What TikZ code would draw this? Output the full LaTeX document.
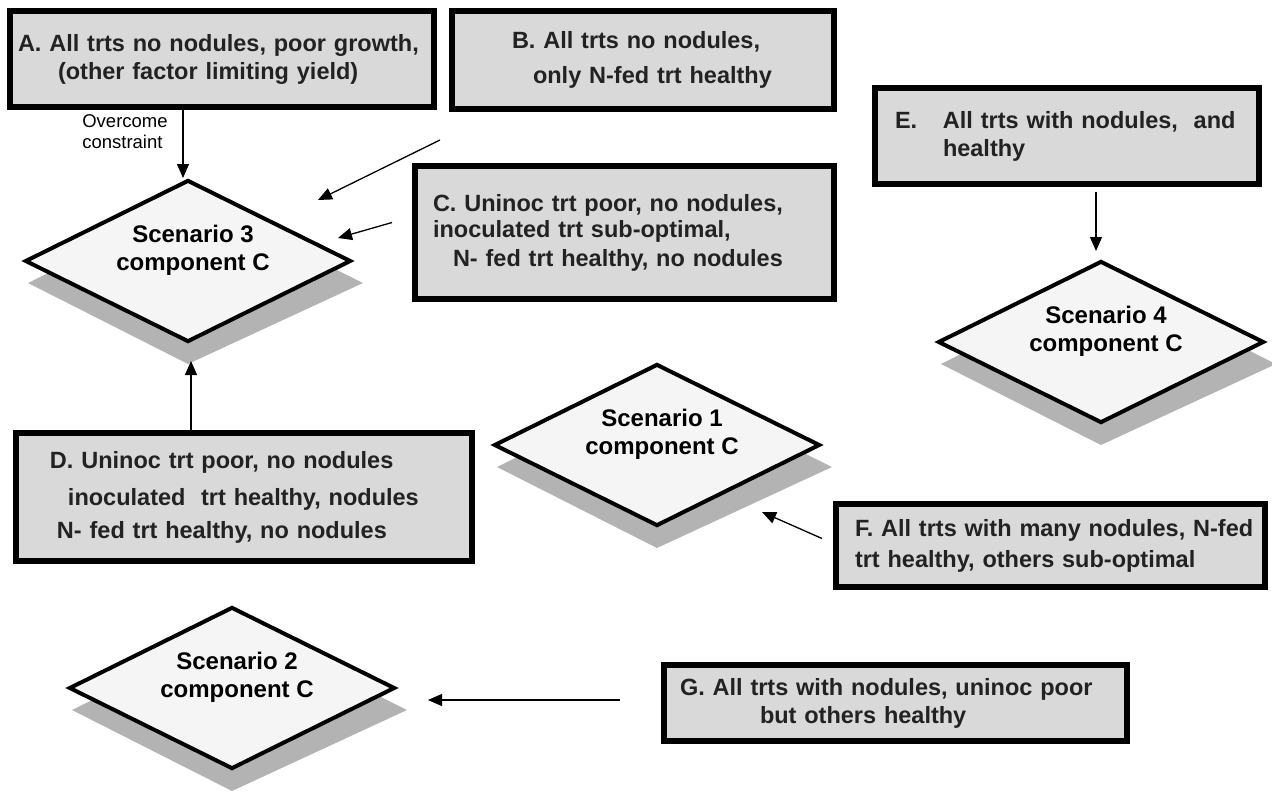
\documentclass[tikz,border=0pt]{standalone}
\usepackage{fontspec}
\setmainfont{Liberation Sans}
\usetikzlibrary{arrows.meta,calc,backgrounds,shapes.geometric}
\definecolor{boxfill}{HTML}{D9D9D9}
\definecolor{dfill}{HTML}{F5F5F5}
\definecolor{shadowc}{HTML}{B3B3B3}
\definecolor{btext}{HTML}{222222}
\begin{document}
\begin{tikzpicture}[x=1pt,y=-1pt,
  box/.style={draw=black, line width=6pt, fill=boxfill, inner sep=0pt, align=left, text=btext,
    font=\fontsize{23.5}{27}\selectfont\bfseries},
  dia/.style={diamond, draw=black, line width=4pt, fill=dfill, inner sep=0pt,
    minimum width=326pt, minimum height=162pt},
  dtext/.style={font=\fontsize{24}{28}\selectfont\bfseries, align=center, inner sep=0pt},
  arr/.style={line width=1.3pt, -{Triangle[length=14pt,width=12pt]}},
]
\useasboundingbox (0,0) rectangle (1272,793);

% boxes
\node[box, minimum width=424pt, minimum height=96pt, text width=424pt] (A) at (222,59)
  {\hspace*{8pt}A. All trts no nodules, poor growth,\\[1pt]\hspace*{48pt}(other factor limiting yield)};
\node[box, minimum width=382pt, minimum height=98pt, text width=382pt] (B) at (643,60)
  {\hspace*{60pt}B. All trts no nodules,\\[8pt]\hspace*{81pt}only N-fed trt healthy};
\node[box, minimum width=419pt, minimum height=133pt, text width=419pt] (C) at (624.5,232.5)
  {\hspace*{18pt}C. Uninoc trt poor, no nodules,\\[-1pt]\hspace*{18pt}inoculated trt sub-optimal,\\[2pt]\hspace*{38pt}N- fed trt healthy, no nodules};
\node[box, minimum width=456pt, minimum height=128pt, text width=456pt] (D) at (244,497)
  {\hspace*{34pt}D. Uninoc trt poor, no nodules\\[10pt]\hspace*{52pt}inoculated\ \ trt healthy, nodules\\[6pt]\hspace*{41pt}N- fed trt healthy, no nodules};
\node[box, minimum width=384pt, minimum height=96pt, text width=384pt] (E) at (1067,136)
  {\hspace*{20pt}\makebox[48pt][l]{E.}All trts with nodules,\ \ and\\[1pt]\hspace*{68pt}healthy};
\node[box, minimum width=429pt, minimum height=83pt, text width=429pt] (F) at (1050.5,545.5)
  {\hspace*{19pt}F. All trts with many nodules, N-fed\\[4pt]\hspace*{19pt}trt healthy, others sub-optimal};
\node[box, minimum width=463pt, minimum height=76pt, text width=463pt] (G) at (895.5,703)
  {\hspace*{16pt}G. All trts with nodules, uninoc poor\\[1pt]\hspace*{96pt}but others healthy};

% diamonds
\node[dia] (s3) at (188,261) {};
\node[dia] (s4) at (1101,342) {};
\node[dia] (s1) at (657,445) {};
\node[dia] (s2) at (232,688) {};
\node[dtext] (s3t) at ($(s3.center)+(5,-11)$) {Scenario 3\\component C};
\node[dtext] (s4t) at ($(s4.center)+(5,-11)$) {Scenario 4\\component C};
\node[dtext] (s1t) at ($(s1.center)+(5,-11)$) {Scenario 1\\component C};
\node[dtext] (s2t) at ($(s2.center)+(5,-11)$) {Scenario 2\\component C};

\begin{scope}[on background layer]
\foreach \n in {s1,s2,s3,s4}
  \fill[shadowc] ($(\n.west)+(5,22)$) -- ($(\n.north)+(8,22)$) -- ($(\n.east)+(10,22)$) -- ($(\n.south)+(0,20)$) -- cycle;
\end{scope}

% label
\node[font=\fontsize{18.5}{21}\selectfont, align=left, inner sep=0pt] (oc) at (125,132) {Overcome\\constraint};

% connectors
\coordinate (bt) at (440,140);
\coordinate (bh) at (318,200);
\draw[arr] ($(A.south)+(-39,0)$) -- ($(s3.north)+(-5,0)$);
\draw[arr] (bt) -- (bh);
\draw[arr] ($(C.west)+(-20,-10)$) -- ($(s3.east)+(-15,-23)$);
\draw[arr] ($(D.north)+(-53,0)$) -- ($(s3.south)+(3,17)$);
\draw[arr] ($(E.south)+(29,5)$) -- ($(s4.north)+(-5,-8)$);
\draw[arr] ($(F.west)+(-11,-7)$) -- ($(s1.south)+(105,-16)$);
\draw[arr] ($(G.west)+(-41,-3)$) -- ($(s2.east)+(31,12)$);
\end{tikzpicture}
\end{document}
